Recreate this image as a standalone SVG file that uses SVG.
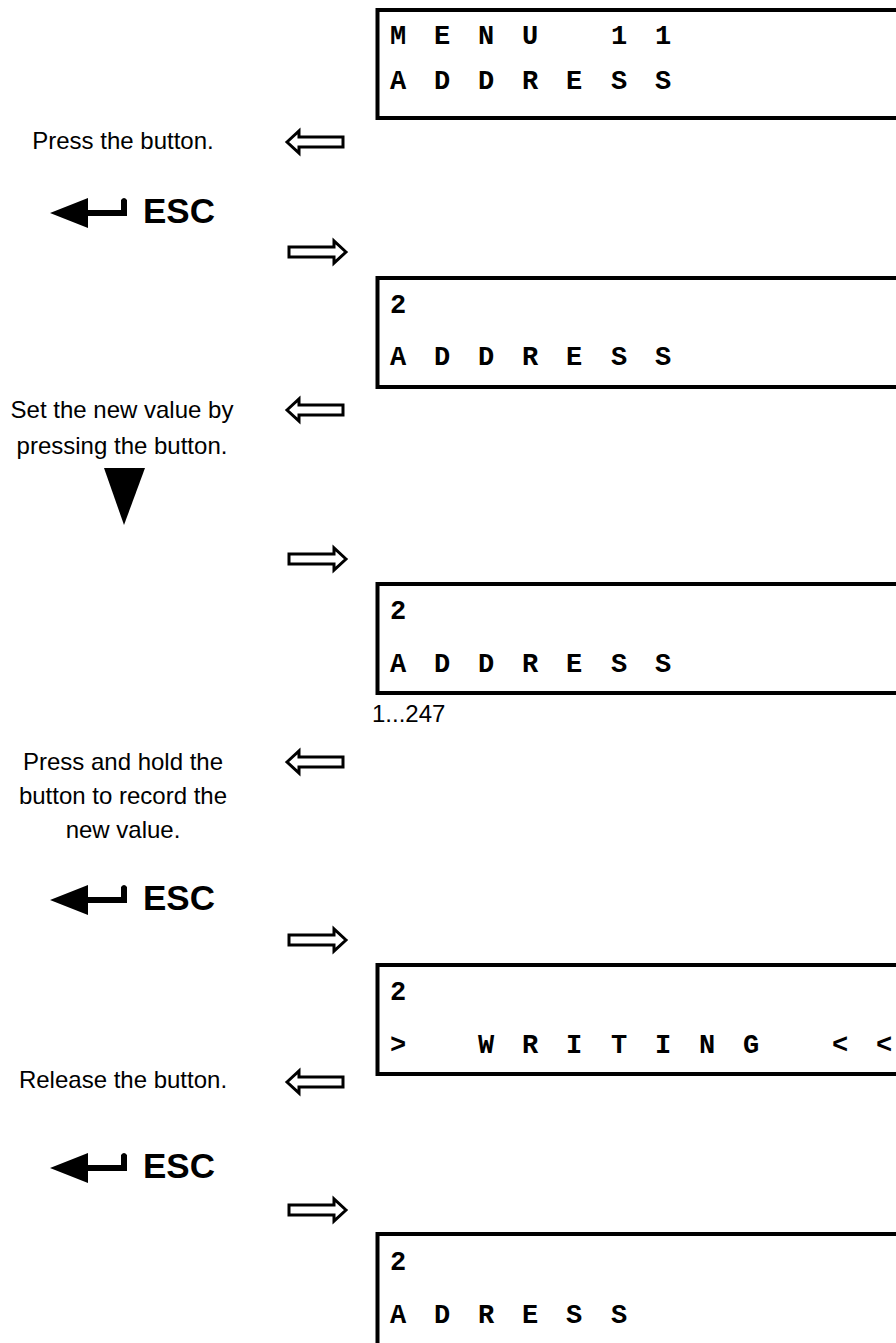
<svg xmlns="http://www.w3.org/2000/svg" xmlns:xlink="http://www.w3.org/1999/xlink" width="896" height="1343" viewBox="0 0 896 1343">
<style>
.box{fill:none;stroke:#000;stroke-width:4}
.lcd{font-family:"Liberation Mono","DejaVu Sans Mono",monospace;font-weight:bold;font-size:27px;fill:#000;text-anchor:middle}
.lbl{font-family:"Liberation Sans",Arial,sans-serif;font-size:24px;fill:#000;text-anchor:middle}
.esc{font-family:"Liberation Sans",Arial,sans-serif;font-weight:bold;font-size:35px;fill:#000}
.hollow{fill:#fff;stroke:#000;stroke-width:3;stroke-linejoin:miter}
</style>
<defs>
<path id="escArrow" d="M50,-10 L88,-25 L88,-13 L121,-13 L121,-23 Q124,-27 127,-23 L127,-7 L88,-7 L88,5 Z" fill="#000"/>
<path id="arrL" d="M287,0 L299,-11 L299,-5 L343,-5 L343,5 L299,5 L299,11 Z" class="hollow"/>
<path id="arrR" d="M346,0 L334,-11 L334,-5 L289,-5 L289,5 L334,5 L334,11 Z" class="hollow"/>
</defs>
<rect width="896" height="1343" fill="#fff"/>

<g id="display1">
<rect class="box" x="377.5" y="10" width="540" height="108"/>
<text class="lcd" x="398 442 486 530 619 663" y="44">MENU11</text>
<text class="lcd" x="398 442 486 530 574 619 663" y="89">ADDRESS</text>
</g>

<g id="display2">
<rect class="box" x="377.5" y="278" width="540" height="109"/>
<text class="lcd" x="398" y="313">2</text>
<text class="lcd" x="398 442 486 530 574 619 663" y="365">ADDRESS</text>
</g>

<g id="display3">
<rect class="box" x="377.5" y="584" width="540" height="109"/>
<text class="lcd" x="398" y="619">2</text>
<text class="lcd" x="398 442 486 530 574 619 663" y="672">ADDRESS</text>
<text class="lbl" x="372" y="722" style="text-anchor:start">1...247</text>
</g>

<g id="display4">
<rect class="box" x="377.5" y="965" width="540" height="109"/>
<text class="lcd" x="398" y="1000">2</text>
<text class="lcd" x="398 486 530 574 619 663 707 751 840 884" y="1053">&gt;WRITING&lt;&lt;</text>
</g>

<g id="display5">
<rect class="box" x="377.5" y="1234" width="540" height="140"/>
<text class="lcd" x="398" y="1270">2</text>
<text class="lcd" x="398 442 486 530 574 619" y="1323">ADRESS</text>
</g>

<g id="step1">
<text class="lbl" x="123" y="149">Press the button.</text>
</g>
<g id="esc1">
<use xlink:href="#escArrow" transform="translate(0,223)"/>
<text class="esc" x="143" y="223">ESC</text>
</g>

<g id="step2">
<text class="lbl" x="122" y="418">Set the new value by</text>
<text class="lbl" x="122" y="454">pressing the button.</text>
<polygon points="104,468 145,468 124,525" fill="#000"/>
</g>

<g id="step3">
<text class="lbl" x="123" y="770">Press and hold the</text>
<text class="lbl" x="123" y="804">button to record the</text>
<text class="lbl" x="123" y="838">new value.</text>
</g>
<g id="esc2">
<use xlink:href="#escArrow" transform="translate(0,910)"/>
<text class="esc" x="143" y="910">ESC</text>
</g>

<g id="step4">
<text class="lbl" x="123" y="1088">Release the button.</text>
</g>
<g id="esc3">
<use xlink:href="#escArrow" transform="translate(0,1178)"/>
<text class="esc" x="143" y="1178">ESC</text>
</g>

<g id="connectors">
<use xlink:href="#arrL" transform="translate(0,142)"/>
<use xlink:href="#arrR" transform="translate(0,252)"/>
<use xlink:href="#arrL" transform="translate(0,410)"/>
<use xlink:href="#arrR" transform="translate(0,559)"/>
<use xlink:href="#arrL" transform="translate(0,762)"/>
<use xlink:href="#arrR" transform="translate(0,940)"/>
<use xlink:href="#arrL" transform="translate(0,1082)"/>
<use xlink:href="#arrR" transform="translate(0,1210)"/>
</g>
</svg>
